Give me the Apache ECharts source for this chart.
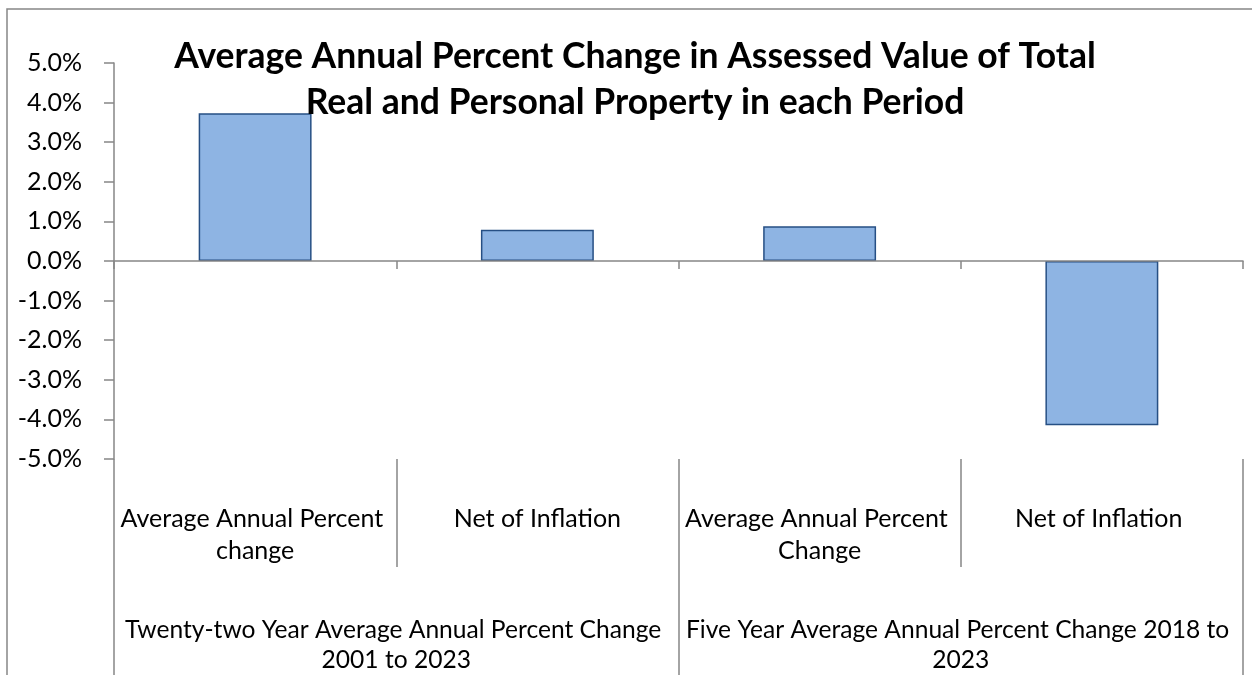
<!DOCTYPE html>
<html>
<head>
<meta charset="utf-8">
<script src="https://cdn.jsdelivr.net/npm/echarts@6/dist/echarts.min.js"></script>
<style>
html,body{margin:0;padding:0;background:#fff;}
#chart{width:1252px;height:675px;}
</style>
</head>
<body>
<div id="chart"></div>
<script>
const titleText = "Average Annual Percent Change in Assessed Value of Total\nReal and Personal Property in each Period";
const subCategories = ["Average Annual Percent change", "Net of Inflation", "Average Annual Percent Change", "Net of Inflation "];
const groupCategories = ["Twenty-two Year Average Annual Percent Change 2001 to 2023", "Five Year Average Annual Percent Change 2018 to 2023"];
const values = [3.73, 0.79, 0.88, -4.15];
const yMin = -5, yMax = 5, yStep = 1;

const FONT = "Lato, 'Open Sans', sans-serif";
const AXIS_GRAY = "#868686";

const chart = echarts.init(document.getElementById('chart'));
chart.setOption({
  animation: false,
  backgroundColor: '#ffffff',
  title: {
    text: titleText,
    left: 630,
    top: 29,
    textAlign: 'center',
    textStyle: { fontFamily: FONT, fontWeight: 'bold', fontSize: 35.5, color: '#000', lineHeight: 46 },
    z: 10
  },
  graphic: [{
    type: 'rect',
    shape: { x: 7, y: 9, width: 1300, height: 720 },
    style: { fill: 'none', stroke: AXIS_GRAY, lineWidth: 1.5 },
    silent: true, z: -1
  }],
  grid: { left: 114, right: 9, top: 63, bottom: 214, containLabel: false },
  xAxis: [
    {
      type: 'category', data: subCategories, z: 5,
      axisLine: { onZero: true, lineStyle: { color: AXIS_GRAY, width: 1.5 } },
      axisTick: { show: true, length: 8, lineStyle: { color: AXIS_GRAY, width: 1.5 } },
      axisLabel: { show: false },
      splitLine: { show: false }
    },
    {
      type: 'category', data: subCategories, position: 'bottom', offset: 0,
      axisLine: { show: false, onZero: false },
      axisTick: { show: true, length: 108, lineStyle: { color: AXIS_GRAY, width: 1.5 } },
      axisLabel: { show: true, margin: 44, interval: 0, fontFamily: FONT, fontSize: 25, color: '#000',
        lineHeight: 32, width: 275, overflow: 'break', align: 'center' },
      splitLine: { show: false }
    },
    {
      type: 'category', data: groupCategories, position: 'bottom', offset: 0,
      axisLine: { show: false, onZero: false },
      axisTick: { show: true, length: 216, lineStyle: { color: AXIS_GRAY, width: 1.5 } },
      axisLabel: { show: true, margin: 156, interval: 0, fontFamily: FONT, fontSize: 24.6, color: '#000',
        lineHeight: 30, width: 572, overflow: 'break', align: 'center' },
      splitLine: { show: false }
    }
  ],
  yAxis: {
    type: 'value', min: yMin, max: yMax, interval: yStep,
    axisLine: { show: true, lineStyle: { color: AXIS_GRAY, width: 1.5 } },
    axisTick: { show: true, length: 10, lineStyle: { color: AXIS_GRAY, width: 1.5 } },
    axisLabel: { margin: 32, fontFamily: FONT, fontSize: 25, color: '#000',
      formatter: v => v.toFixed(1) + '%' },
    splitLine: { show: false }
  },
  series: [{
    type: 'bar',
    xAxisIndex: 0,
    data: values,
    barCategoryGap: '60%',
    itemStyle: { color: '#8EB4E3', borderColor: '#264F84', borderWidth: 1.5 }
  }]
});
</script>
</body>
</html>
